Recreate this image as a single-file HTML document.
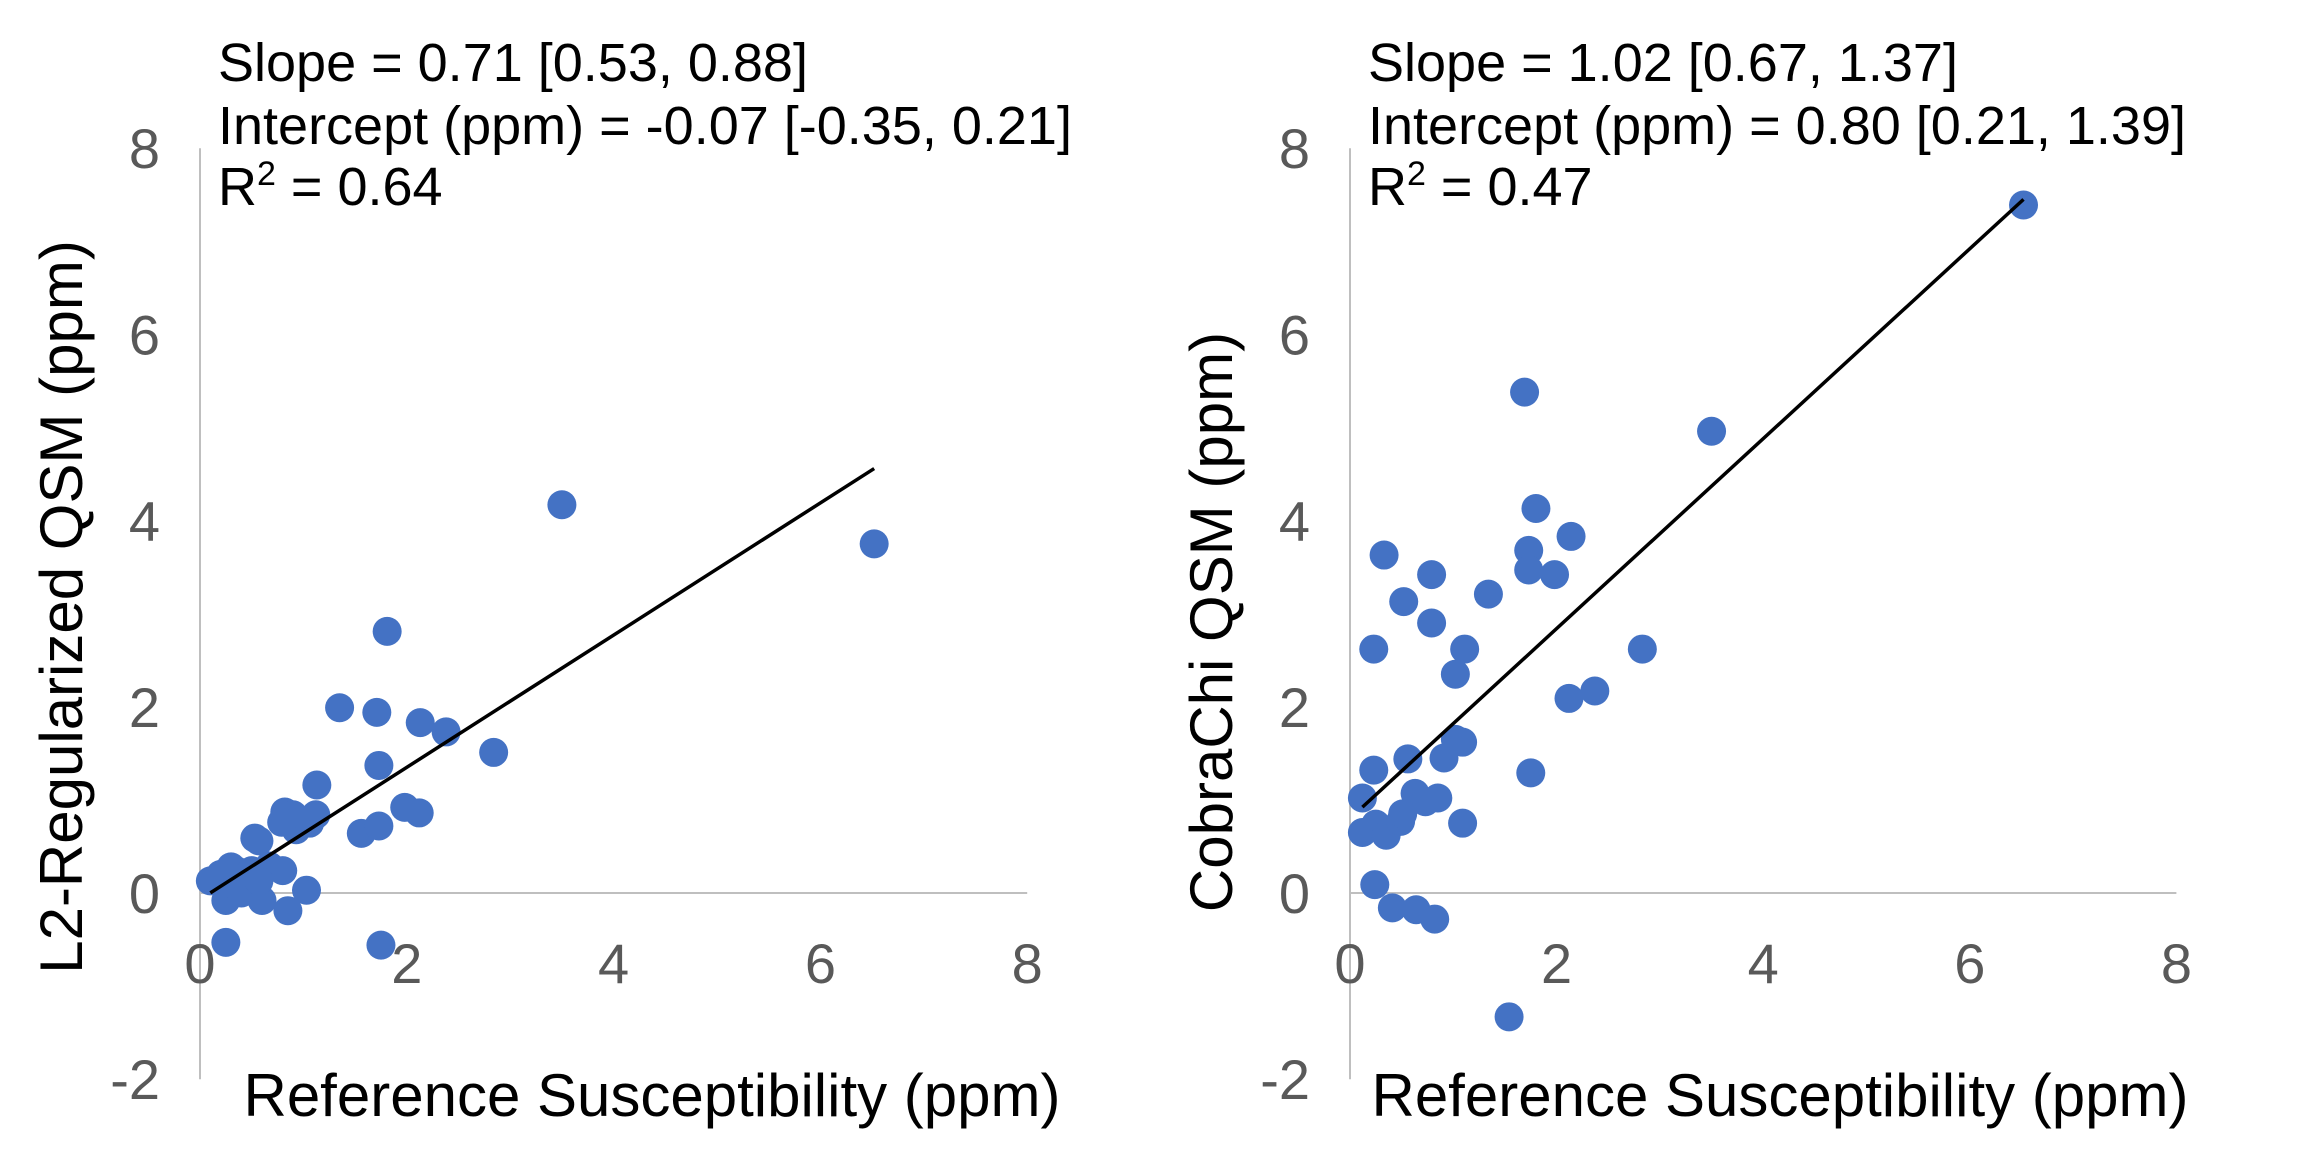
<!DOCTYPE html>
<html><head><meta charset="utf-8"><style>
body{margin:0;background:#fff}
svg{display:block;font-family:"Liberation Sans",Arial,sans-serif}
</style></head><body>
<svg id="c" width="2323" height="1160" viewBox="0 0 2323 1160" xmlns="http://www.w3.org/2000/svg"></svg>
<script>
const xTicks=[0,2,4,6,8];
const yTicks=[-2,0,2,4,6,8];
const leftX=[0.1,0.2,0.35,0.3,0.5,0.25,0.4,0.25,0.6,0.67,0.8,0.57,0.85,1.03,0.53,0.57,0.82,0.9,0.93,1.06,1.12,1.13,0.79,1.35,1.56,1.73,1.71,1.73,1.81,1.75,1.98,2.12,2.13,2.38,2.84,3.5,6.52];
const leftY=[0.13,0.2,0.24,0.28,0.24,-0.08,0,-0.53,-0.08,0.29,0.24,0.13,-0.19,0.03,0.59,0.56,0.87,0.84,0.68,0.75,0.84,1.16,0.76,1.99,0.64,0.72,1.94,1.37,2.81,-0.56,0.92,0.86,1.83,1.73,1.51,4.17,3.75];
const rightX=[6.52,3.5,1.69,1.8,2.14,1.73,1.73,1.98,0.33,0.79,0.52,1.34,0.79,0.23,1.11,1.02,2.83,2.37,2.12,1.02,1.09,0.91,0.56,0.23,1.75,0.63,0.73,0.85,0.12,0.12,0.25,0.35,0.49,0.51,1.09,0.24,0.41,0.64,0.82,1.54];
const rightY=[7.39,4.96,5.38,4.13,3.83,3.68,3.47,3.42,3.63,3.42,3.13,3.21,2.9,2.62,2.62,2.35,2.62,2.17,2.09,1.65,1.62,1.45,1.44,1.32,1.29,1.07,0.98,1.02,1.02,0.65,0.74,0.62,0.77,0.85,0.75,0.09,-0.16,-0.18,-0.28,-1.33];
const leftFit=[0.71,-0.07,0.1,6.52];
const rightFit=[1.02,0.80,0.12,6.52];
const panels=[
 {id:'left',x0:200,xs:103.4,y0:893,ys:93.1,xs_:leftX,ys_:leftY,fit:leftFit,title:'L2-Regularized QSM (ppm)',tx:62,xto:452,
  stats:['Slope = 0.71 [0.53, 0.88]','Intercept (ppm) = -0.07 [-0.35, 0.21]','0.64']},
 {id:'right',x0:1350,xs:103.3,y0:893,ys:93.1,xs_:rightX,ys_:rightY,fit:rightFit,title:'CobraChi QSM (ppm)',tx:1212,xto:430,
  stats:['Slope = 1.02 [0.67, 1.37]','Intercept (ppm) = 0.80 [0.21, 1.39]','0.47']}
];
const svg=document.getElementById('c');const NS='http://www.w3.org/2000/svg';
function mk(t,a,p){const e=document.createElementNS(NS,t);for(const k in a)e.setAttribute(k,a[k]);(p||svg).appendChild(e);return e;}
panels.forEach(P=>{
 const X=v=>P.x0+v*P.xs, Y=v=>P.y0-v*P.ys;
 const g=mk('g',{});
 
 
 const ya=mk('line',{x1:X(0),x2:X(0),y1:Y(8),y2:Y(-2),stroke:'#bfbfbf','stroke-width':2},g);
 
 
 const xa=mk('line',{x1:X(0),x2:X(8),y1:Y(0),y2:Y(0),stroke:'#bfbfbf','stroke-width':2},g);
 
 
 yTicks.forEach(t=>{const e=mk('text',{x:X(0)-40,y:Y(t)+20,'text-anchor':'end','font-size':56,fill:'#595959'},g);e.textContent=t;
  
  });
 xTicks.forEach(t=>{const e=mk('text',{x:X(t),y:P.y0+90,'text-anchor':'middle','font-size':56,fill:'#595959'},g);e.textContent=t;
  
  });
 P.xs_.forEach((v,i)=>{const c=mk('circle',{cx:X(v),cy:Y(P.ys_[i]),r:14.5,fill:'#4472c4'},g);
  
  });
 const f=P.fit;const l=mk('line',{x1:X(f[2]),y1:Y(f[0]*f[2]+f[1]),x2:X(f[3]),y2:Y(f[0]*f[3]+f[1]),stroke:'#000','stroke-width':3.5},g);
 
 
 const xt=mk('text',{x:X(0)+P.xto,y:1116,'text-anchor':'middle','font-size':60,fill:'#000'},g);xt.textContent='Reference Susceptibility (ppm)';
 
 
 const yt=mk('text',{x:0,y:0,'text-anchor':'middle','font-size':60,fill:'#000',transform:`translate(${P.tx+20},${P.id=='left'?607:622}) rotate(-90)`},g);yt.textContent=P.title;
 
 
 const sx=X(0)+18;
 [81,144].forEach((b,i)=>{const s=mk('text',{x:sx,y:b,'font-size':54,fill:'#000'},g);s.textContent=P.stats[i];
  
  });
 const r=mk('text',{x:sx,y:205,'font-size':54,fill:'#000'},g);
 
 
 r.innerHTML='R<tspan dy="-20" font-size="34">2</tspan><tspan dy="20"> = '+P.stats[2]+'</tspan>';
});
</script>
</body></html>
